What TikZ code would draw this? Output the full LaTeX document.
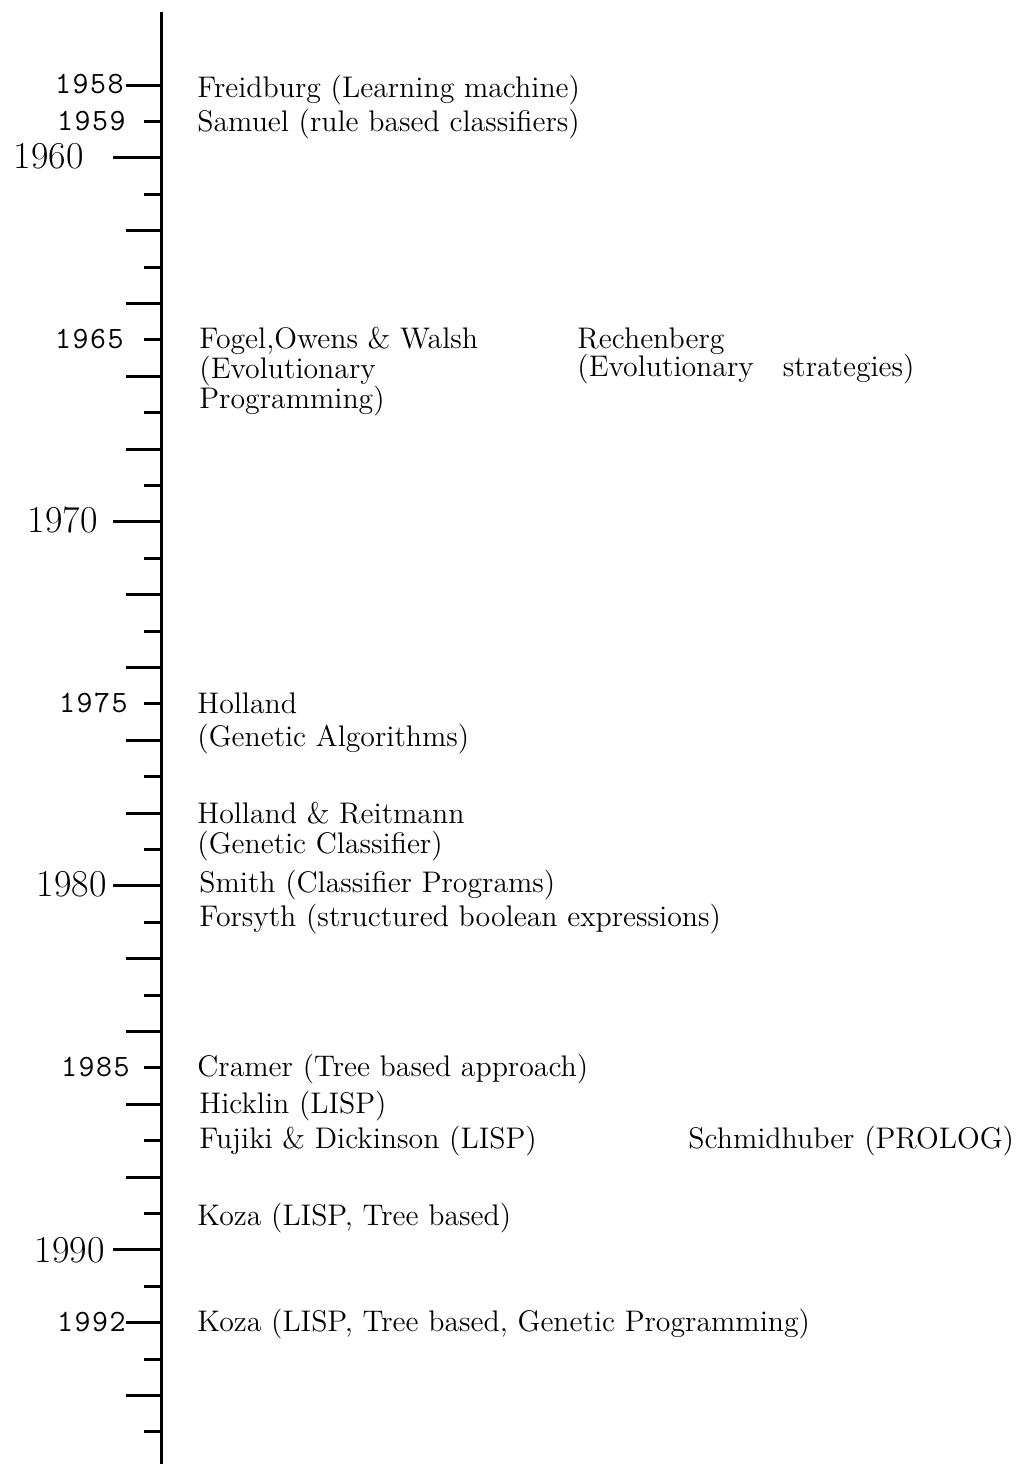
\documentclass[tikz,border=0pt]{standalone}
\usepackage{fontspec}
\newfontfamily\yearfont{Latin Modern Mono}[LetterSpace=5]
\usetikzlibrary{positioning}

\begin{document}
\begin{tikzpicture}[x=0.5pt, y=-0.5pt,
	event/.style={anchor=base west, inner sep=0pt, font=\fontsize{14.9}{18}\selectfont},
	yearsmall/.style={anchor=base east, inner sep=0pt, font=\yearfont\fontsize{15.5}{17}\selectfont},
	yearbig/.style={anchor=base east, inner sep=0pt, font=\fontsize{19}{22}\selectfont},
	yeartick/.style={line width=1.5pt}]
	\useasboundingbox (0,0) rectangle (1017,1464);
	% time axis
	\coordinate (top) at (161,12);
	\coordinate (bottom) at (161,1464);
	\draw[line width=1.5pt] (top) -- (bottom);
	% one tick per year
	\foreach \yr in {1958,...,1995} {
		\pgfmathsetmacro{\ty}{85+(\yr-1958)*36.4}
		\pgfmathsetmacro{\tl}{mod(\yr,10)==0 ? 113 : (mod(\yr,2)==0 ? 126 : 144)}
		\coordinate (t\yr) at (161,\ty);
		\draw[yeartick] (\tl,\ty) -- (t\yr);
	}
	% year labels
	\node[yearsmall] (y1958) at (124,93) {1958};
	\node[yearsmall] (y1959) at (126,130) {1959};
	\node[yearbig] (y1960) at (84,168) {1960};
	\node[yearsmall] (y1965) at (124,348) {1965};
	\node[yearbig] (y1970) at (98,532) {1970};
	\node[yearsmall] (y1975) at (128,712) {1975};
	\node[yearbig] (y1980) at (107,896) {1980};
	\node[yearsmall] (y1985) at (130,1076) {1985};
	\node[yearbig] (y1990) at (105,1262) {1990};
	\node[yearsmall] (y1992) at (126,1331) {1992};
	% events
	\node[event] (freid) at (197,97) {Freidburg (Learning machine)};
	\node[event] (samuel) at (197,131) {Samuel (rule based classifiers)};
	\node[event] (fogel) at (199,348) {Fogel,Owens \& Walsh};
	\node[event] (fogelb) at (199,378) {(Evolutionary};
	\node[event] (fogelc) at (199,408) {Programming)};
	\node[event] (rech) at (577,348) {Rechenberg};
	\node[event] (rechb) at (577,376) {(Evolutionary\ \ \ strategies)};
	\node[event] (holl) at (197,713) {Holland};
	\node[event] (hollb) at (197,746) {(Genetic Algorithms)};
	\node[event] (hollr) at (197,823) {Holland \& Reitmann};
	\node[event] (hollrb) at (197,853) {(Genetic Classifier)};
	\node[event] (smith) at (199,892) {Smith (Classifier Programs)};
	\node[event] (forsyth) at (199,926) {Forsyth (structured boolean expressions)};
	\node[event] (cramer) at (197,1076) {Cramer (Tree based approach)};
	\node[event] (hicklin) at (199,1113) {Hicklin (LISP)};
	\node[event] (fujiki) at (199,1148) {Fujiki \& Dickinson (LISP)};
	\node[event] (schmid) at (688,1148) {Schmidhuber (PROLOG)};
	\node[event] (koza) at (197,1225) {Koza (LISP, Tree based)};
	\node[event] (kozab) at (197,1331) {Koza (LISP, Tree based, Genetic Programming)};
\end{tikzpicture}
\end{document}
